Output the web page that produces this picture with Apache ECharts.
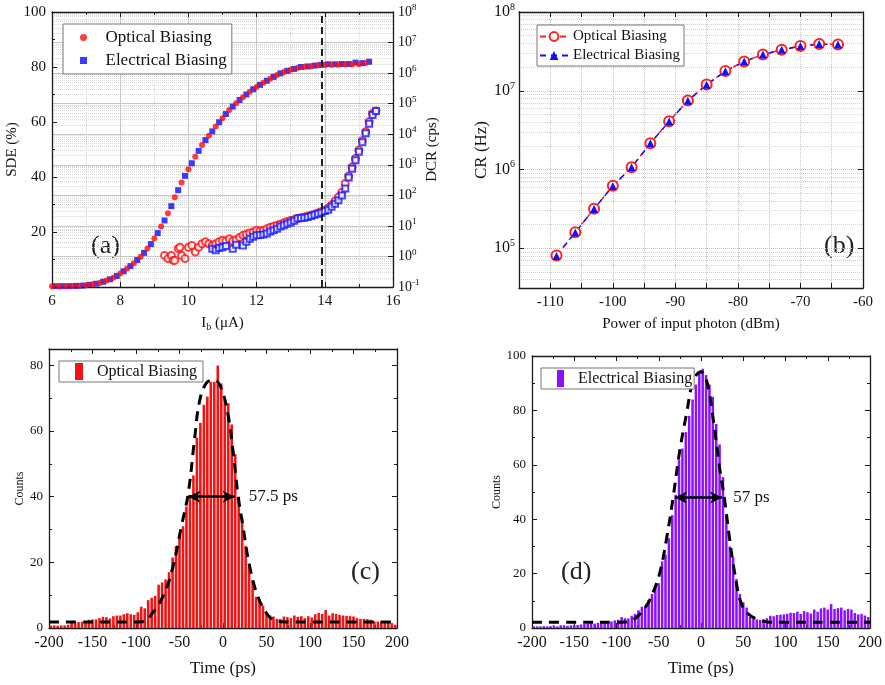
<!DOCTYPE html>
<html><head><meta charset="utf-8">
<script src="https://cdn.jsdelivr.net/npm/echarts/dist/echarts.min.js"></script>
<style>html,body{margin:0;padding:0;background:#fff}#c{width:885px;height:685px}</style>
</head><body><div id="c"></div>
<script>
// ---------- Panel (a) ----------
const aSdeOptX = [6.0,6.2,6.4,6.6,6.8,7.0,7.2,7.4,7.6,7.8,8.0,8.2,8.4,8.6,8.8,9.0,9.2,9.4,9.6,9.8,10.0,10.2,10.4,10.6,10.8,11.0,11.2,11.4,11.6,11.8,12.0,12.2,12.4,12.6,12.8,13.0,13.2,13.4,13.6,13.8,14.0,14.2,14.4,14.6,14.8,15.0,15.2];
const aSdeOptY = [0.3,0.3,0.3,0.4,0.5,0.6,1.0,1.5,2.4,3.4,4.9,6.7,8.6,11.0,14.0,17.6,22.0,26.8,32.6,38.0,42.8,47.4,51.6,55.0,58.4,61.4,64.4,66.8,69.0,71.0,72.7,74.3,75.7,77.1,78.2,79.0,79.6,80.1,80.3,80.6,80.7,80.8,80.8,80.9,80.9,81.0,81.5];
const aSdeEleX = [6.1,6.3,6.5,6.7,6.9,7.1,7.3,7.5,7.7,7.9,8.1,8.3,8.5,8.7,8.9,9.1,9.3,9.5,9.7,9.9,10.1,10.3,10.5,10.7,10.9,11.1,11.3,11.5,11.7,11.9,12.1,12.3,12.5,12.7,12.9,13.1,13.3,13.5,13.7,13.9,14.1,14.3,14.5,14.7,14.9,15.1,15.3];
const aSdeEleY = [0.3,0.3,0.3,0.4,0.5,0.8,1.2,1.9,2.8,4.0,5.7,7.6,9.8,12.4,15.6,19.6,24.2,29.4,35.2,40.4,45.0,49.5,53.4,56.6,59.9,62.9,65.6,68.0,70.0,71.9,73.5,75.0,76.4,77.7,78.6,79.3,80.0,80.2,80.5,80.8,81.0,81.0,81.1,81.1,81.6,81.4,81.9];
const aDcrOptX = [9.3,9.4,9.5,9.55,9.6,9.7,9.75,9.8,9.9,10.0,10.1,10.2,10.3,10.4,10.5,10.6,10.7,10.8,10.9,11.0,11.1,11.2,11.3,11.4,11.5,11.6,11.7,11.8,11.9,12.0,12.1,12.2,12.3,12.4,12.5,12.6,12.7,12.8,12.9,13.0,13.1,13.2,13.3,13.4,13.5,13.6,13.7,13.8,13.9,14.0,14.1,14.2,14.3,14.4,14.5,14.6,14.7,14.8,14.9,15.0,15.1,15.2,15.3,15.4,15.5];
const aDcrOptY = [1.08,0.85,1.07,0.74,0.74,1.8,2.0,1.07,0.85,2.0,2.3,1.4,2.0,2.6,3.0,2.6,2.3,2.6,3.0,3.4,3.2,3.8,3.2,3.5,4.2,4.9,5.3,5.9,6.3,7.2,6.8,7.2,8.0,9.1,9.8,10.5,11.5,12.6,14,15,16,17.4,18.5,19.5,21,22.4,24,26.3,29,32,38,48,65,89,126,245,427,851,1620,3020,6170,12000,25700,47900,57500];
const aDcrEleX = [10.7,10.8,10.9,11.0,11.1,11.3,11.4,11.6,11.7,11.8,11.9,12.0,12.1,12.2,12.3,12.4,12.5,12.6,12.7,12.8,12.9,13.0,13.1,13.2,13.3,13.4,13.5,13.6,13.7,13.8,13.9,14.0,14.1,14.2,14.3,14.4,14.5,14.6,14.7,14.8,14.9,15.0,15.1,15.2,15.3,15.4,15.5];
const aDcrEleY = [1.8,1.6,1.9,2.0,2.2,1.8,2.4,2.3,3.0,3.8,4.4,4.9,5.0,5.2,5.6,6.5,7.2,8.1,9.5,10.5,11.7,13,14.8,17.4,18,18.5,19.5,21,23,25,27,31,34,42,53,69,98,166,380,740,1400,2690,5500,10700,22000,42700,57500];
const aDashX = 13.9;

// ---------- Panel (b) ----------
const bPower = [-109,-106,-103,-100,-97,-94,-91,-88,-85,-82,-79,-76,-73,-70,-67,-64];
const bOpt = [80700,160000,317000,620000,1070000,2160000,4100000,7500000,12000000,17800000,23600000,28900000,33200000,37000000,39200000,38700000];
const bEle = [80000,159000,316000,618000,1065000,2150000,4080000,7450000,11900000,17700000,23500000,28800000,33100000,36900000,39300000,38800000];

// ---------- Panels (c) and (d) ----------
const histTime = [-198,-194,-190,-186,-182,-178,-174,-170,-166,-162,-158,-154,-150,-146,-142,-138,-134,-130,-126,-122,-118,-114,-110,-106,-102,
  -98,-94,-90,-86,-82,-78,-74,-70,-66,-62,-58,-54,-50,-46,-42,-38,-34,-30,-26,-22,-18,-14,-10,-6,-2,
  2,6,10,14,18,22,26,30,34,38,42,46,50,54,58,62,66,70,74,78,82,86,90,94,98,
  102,106,110,114,118,122,126,130,134,138,142,146,150,154,158,162,166,170,174,178,182,186,190,194,198];
const cCounts = [0.8,0.8,0.7,0.8,0.8,1.0,1.8,1.8,1.8,1.9,2.0,2.5,2.6,2.6,3.0,3.4,3.3,2.9,3.6,3.8,3.8,4.2,4.5,4.2,4.0,
  4.8,6.5,6.0,8.5,9.2,9.8,13.2,13.9,14.8,17.0,21.5,25.0,28.5,31.0,37.0,40.5,46.5,58.0,62.5,68.0,70.5,75.0,75.0,80.0,74.5,
  69.5,68.5,62.0,53.0,40.0,33.5,25.0,18.5,14.5,9.5,8.8,6.8,4.5,3.8,3.5,2.8,2.7,3.5,3.3,3.0,3.8,3.4,3.6,3.0,3.6,
  3.2,4.2,4.6,4.3,5.5,3.8,4.5,4.3,4.0,3.8,3.7,3.6,3.5,3.0,2.8,2.8,2.7,2.5,2.0,2.0,2.0,1.8,1.9,1.5,1.0];
const cFitT = [-200,-150,-100,-90,-84,-69,-57.5,-48,-40,-32.5,-27,-19,-9.5,-2,5.8,11.5,17,23,30.7,40,50,57.5,65,77,100,150,200];
const cFitY = [1.8,1.8,1.8,2.0,3.5,9.6,18.7,30.8,41,58,69,74.7,75.5,73,65,54,41,30.8,18.7,9.6,4.5,2.5,2.0,1.8,1.8,1.8,1.8];
const cFwhm = [-40, 13.5, 40];
const cFwhmText = '57.5 ps';

const dCounts = [0.6,0.6,0.6,0.7,0.6,0.7,0.8,0.6,1.0,1.0,0.8,1.0,1.2,1.1,1.3,1.5,1.6,1.8,1.6,1.9,1.8,2.0,2.2,2.4,2.8,
  3.0,4.0,3.6,3.5,4.5,5.2,6.5,7.8,8.0,10.3,12.5,15.0,16.5,24.5,27.0,33.0,41.5,49.0,62.0,66.0,72.0,78.0,84.0,89.5,94.0,
  95.3,93.0,89.5,85.0,75.0,67.5,55.5,41.0,30.0,26.0,18.0,12.5,9.5,7.5,4.0,3.5,3.2,3.0,3.2,3.6,4.5,4.3,4.8,4.9,5.0,
  5.2,5.6,5.5,6.0,5.2,6.2,5.8,5.3,6.8,6.0,7.2,7.5,6.8,8.8,7.0,7.3,7.5,6.5,7.0,6.8,5.5,5.0,5.2,4.6,4.0];
const dFitT = [-200,-150,-100,-90,-80,-65,-57,-49,-41,-33,-25,-17,-9,0,6.6,14,22,28,34,40,47.7,57,69,81,100,150,200];
const dFitY = [2.1,2.1,2.1,2.2,3,8,12.9,20,32.4,48,65.5,79,91,94.2,91,77.7,59,47,32.4,20,9,4.9,3,2.1,2.1,2.1,2.1];
const dFwhm = [-31, 25, 48];
const dFwhmText = '57 ps';

const legendNames = {aOpt:'Optical Biasing', aEle:'Electrical Biasing', bOpt:'Optical Biasing', bEle:'Electrical Biasing', cHist:'Optical Biasing', dHist:'Electrical Biasing'};

// ---------- styling helpers ----------
const F = 'Liberation Serif';
const AX = '#1a1a1a';
const zip = (xs, ys) => xs.map((x, i) => [x, ys[i]]);
const L = {show:true, onZero:false, lineStyle:{color:AX, width:1.3}};
const T = {show:true, inside:true, length:5, lineStyle:{color:AX, width:1}};
const MT = n => ({show:true, splitNumber:n, length:3, lineStyle:{color:AX, width:1}});
const lab = (size, margin, fmt) => ({show:true, color:'#111', fontFamily:F, fontSize:size, margin:margin, formatter:fmt});
const logFmt = v => { const e = Math.log10(v), r = Math.round(e); return Math.abs(e - r) > 1e-6 ? '' : '{b|10}{s|' + r + '}'; };
const logRich = s => ({b:{fontFamily:F, fontSize:s, color:'#111'}, s:{fontFamily:F, fontSize:Math.round(s*0.65), color:'#111', padding:[0,0,s*0.6,0]}});
const nameStyle = s => ({fontFamily:F, fontSize:s, color:'#111'});
const mirrorX = (g, min, max, iv, mt) => ({gridIndex:g, type:'value', position:'top', min, max, interval:iv, axisLine:L, axisTick:T, minorTick: mt ? MT(mt) : {show:false}, axisLabel:{show:false}, splitLine:{show:false}});
const mirrorY = (g, min, max, iv, mt) => ({gridIndex:g, type:'value', position:'right', min, max, interval:iv, axisLine:L, axisTick:T, minorTick: mt ? MT(mt) : {show:false}, axisLabel:{show:false}, splitLine:{show:false}});

const option = {
  animation:false,
  backgroundColor:'#fff',
  textStyle:{fontFamily:F},
  grid:[
    {left:52, top:12, width:341, height:275},
    {left:519, top:12, width:344, height:276},
    {left:49, top:349, width:348, height:279},
    {left:532, top:356, width:339, height:272}
  ],
  xAxis:[
    {gridIndex:0, type:'value', position:'bottom', min:6, max:16, interval:2, axisLine:L, axisTick:T, minorTick:MT(2),
      axisLabel:lab(15, 7), splitLine:{show:true, lineStyle:{color:'#c6c6c6', width:1}},
      minorSplitLine:{show:true, lineStyle:{color:'#d4d4d4', type:'dotted'}},
      name:'I{sub|b} (μA)', nameLocation:'middle', nameGap:27,
      nameTextStyle:Object.assign(nameStyle(15), {rich:{sub:{fontFamily:F, fontSize:10, color:'#111', padding:[8,0,0,0]}}})},
    mirrorX(0, 6, 16, 2, 2),
    {gridIndex:1, type:'value', position:'bottom', min:-115, max:-60, interval:5, axisLine:L, axisTick:T,
      axisLabel:lab(15, 7, v => (v % 10 === 0 ? String(v) : '')),
      splitLine:{show:true, lineStyle:{color:'#c2c2c2', type:'dotted'}},
      name:'Power of input photon (dBm)', nameLocation:'middle', nameGap:29, nameTextStyle:nameStyle(15)},
    mirrorX(1, -115, -60, 5, 0),
    {gridIndex:2, type:'value', position:'bottom', min:-200, max:200, interval:50, axisLine:L, axisTick:T, minorTick:MT(2),
      axisLabel:lab(16, 7), splitLine:{show:false},
      name:'Time (ps)', nameLocation:'middle', nameGap:32, nameTextStyle:nameStyle(17)},
    mirrorX(2, -200, 200, 50, 2),
    {gridIndex:3, type:'value', position:'bottom', min:-200, max:200, interval:50, axisLine:L, axisTick:T, minorTick:MT(2),
      axisLabel:lab(16, 7), splitLine:{show:false},
      name:'Time (ps)', nameLocation:'middle', nameGap:32, nameTextStyle:nameStyle(17)},
    mirrorX(3, -200, 200, 50, 2)
  ],
  yAxis:[
    {gridIndex:0, type:'value', position:'left', min:0, max:100, interval:20, axisLine:L, axisTick:T, minorTick:MT(2),
      axisLabel:lab(15, 6, v => (v === 0 ? '' : String(v))), splitLine:{show:false},
      name:'SDE (%)', nameLocation:'middle', nameGap:31, nameTextStyle:nameStyle(15)},
    {gridIndex:0, type:'log', logBase:10, position:'right', min:0.1, max:1e8, axisLine:L, axisTick:T,
      minorTick:{show:false, splitNumber:9},
      axisLabel:{show:true, margin:5, formatter:logFmt, rich:logRich(14)},
      splitLine:{show:true, lineStyle:{color:'#c6c6c6', width:1}},
      minorSplitLine:{show:true, lineStyle:{color:'#d6d6d6', type:'dotted'}},
      name:'DCR (cps)', nameLocation:'middle', nameGap:32, nameRotate:90, nameTextStyle:nameStyle(15)},
    {gridIndex:1, type:'log', logBase:10, position:'left', min:31300, max:1e8, axisLine:L, axisTick:T,
      minorTick:{show:false, splitNumber:9},
      axisLabel:{show:true, margin:4, formatter:logFmt, rich:logRich(16)},
      splitLine:{show:true, lineStyle:{color:'#c2c2c2', type:'dotted'}},
      minorSplitLine:{show:true, lineStyle:{color:'#d2d2d2', type:'dotted'}},
      name:'CR (Hz)', nameLocation:'middle', nameGap:28, nameTextStyle:nameStyle(17)},
    {gridIndex:1, type:'log', logBase:10, position:'right', min:31300, max:1e8, axisLine:L, axisTick:T, axisLabel:{show:false}, splitLine:{show:false}},
    {gridIndex:2, type:'value', position:'left', min:0, max:85, interval:20, axisLine:L, axisTick:T, minorTick:MT(2),
      axisLabel:lab(13, 6, v => (v % 20 === 0 ? String(v) : '')), splitLine:{show:false},
      name:'Counts', nameLocation:'middle', nameGap:22, nameTextStyle:nameStyle(12)},
    mirrorY(2, 0, 85, 20, 2),
    {gridIndex:3, type:'value', position:'left', min:0, max:100, interval:20, axisLine:L, axisTick:T, minorTick:MT(2),
      axisLabel:lab(13, 6), splitLine:{show:false},
      name:'Counts', nameLocation:'middle', nameGap:28, nameTextStyle:nameStyle(12)},
    mirrorY(3, 0, 100, 20, 2)
  ],
  legend:[
    {data:[{name:'aOpt', icon:'circle'}, {name:'aEle', icon:'path://M0,0L10,0L10,10L0,10Z'}], formatter:n => legendNames[n],
      orient:'vertical', left:63, top:24, itemWidth:30, itemHeight:7, itemGap:6, padding:[5,5,5,17],
      borderColor:'#777', borderWidth:1, backgroundColor:'#fff',
      textStyle:{fontFamily:F, fontSize:17, color:'#111', padding:[0,0,0,2]}},
    {data:['bOpt','bEle'], formatter:n => legendNames[n],
      orient:'vertical', left:537, top:25, itemWidth:28, itemHeight:11, itemGap:4, padding:[4,4,3,2],
      borderColor:'#777', borderWidth:1, backgroundColor:'#fff',
      textStyle:{fontFamily:F, fontSize:15, color:'#111'}},
    {data:[{name:'cHist', icon:'rect'}], formatter:n => legendNames[n],
      left:59, top:361, itemWidth:8, itemHeight:17, padding:[2,6,2,16],
      borderColor:'#777', borderWidth:1, backgroundColor:'#fff',
      textStyle:{fontFamily:F, fontSize:16, color:'#111', padding:[0,0,0,9]}},
    {data:[{name:'dHist', icon:'rect'}], formatter:n => legendNames[n],
      left:541, top:368, itemWidth:7, itemHeight:17, padding:[2,2,2,16],
      borderColor:'#777', borderWidth:1, backgroundColor:'#fff',
      textStyle:{fontFamily:F, fontSize:16, color:'#111', padding:[0,0,0,9]}}
  ],
  series:[
    // (a)
    {name:'aDcrOpt', type:'scatter', xAxisIndex:0, yAxisIndex:1, data:zip(aDcrOptX, aDcrOptY), symbol:'emptyCircle', symbolSize:7,
      itemStyle:{color:'#ff1010', borderColor:'#ff1010', borderWidth:1.6}},
    {name:'aDcrEle', type:'scatter', xAxisIndex:0, yAxisIndex:1, data:zip(aDcrEleX, aDcrEleY), symbol:'emptyRect', symbolSize:6,
      itemStyle:{color:'#1a1aff', borderColor:'#1a1aff', borderWidth:1.5}},
    {name:'aEle', type:'scatter', xAxisIndex:0, yAxisIndex:0, data:zip(aSdeEleX, aSdeEleY), symbol:'rect', symbolSize:6,
      itemStyle:{color:'#0a0aff'}},
    {name:'aOpt', type:'scatter', xAxisIndex:0, yAxisIndex:0, data:zip(aSdeOptX, aSdeOptY), symbol:'circle', symbolSize:6,
      itemStyle:{color:'#ff0a0a'},
      markLine:{silent:true, symbol:'none', label:{show:false}, data:[{xAxis:aDashX}],
        lineStyle:{color:'#222', width:2, type:[7,4]}}},
    // (b)
    {name:'bOpt', type:'line', xAxisIndex:2, yAxisIndex:2, data:zip(bPower, bOpt), symbol:'emptyCircle', symbolSize:10,
      itemStyle:{color:'#ff2020', borderWidth:1.3}, lineStyle:{color:'#ff2020', width:1.5, type:[6,4]}},
    {name:'bEle', type:'line', xAxisIndex:2, yAxisIndex:2, data:zip(bPower, bEle), symbol:'triangle', symbolSize:8,
      itemStyle:{color:'#1010ff'}, lineStyle:{color:'#1010ff', width:1.5, type:[6,5]}},
    // (c)
    {name:'cHist', type:'bar', xAxisIndex:4, yAxisIndex:4, data:zip(histTime, cCounts), barWidth:2.6,
      itemStyle:{color:'#f21414'}},
    {name:'cFit', type:'line', xAxisIndex:4, yAxisIndex:4, data:zip(cFitT, cFitY), smooth:0.4, symbol:'none',
      lineStyle:{color:'#000', width:3, type:[10,7]},
      markLine:{silent:true, symbol:['arrow','arrow'], symbolSize:[9,12], precision:1,
        lineStyle:{color:'#000', width:2.5, type:'solid'},
        label:{show:true, position:'end', distance:14, formatter:cFwhmText, fontFamily:F, fontSize:17, color:'#111'},
        data:[[{coord:[cFwhm[0], cFwhm[2]]}, {coord:[cFwhm[1], cFwhm[2]]}]]}},
    // (d)
    {name:'dHist', type:'bar', xAxisIndex:6, yAxisIndex:6, data:zip(histTime, dCounts), barWidth:2.5,
      itemStyle:{color:'#8a10ff'}},
    {name:'dFit', type:'line', xAxisIndex:6, yAxisIndex:6, data:zip(dFitT, dFitY), smooth:0.4, symbol:'none',
      lineStyle:{color:'#000', width:3, type:[10,7]},
      markLine:{silent:true, symbol:['arrow','arrow'], symbolSize:[9,12], precision:1,
        lineStyle:{color:'#000', width:2.5, type:'solid'},
        label:{show:true, position:'end', distance:11, formatter:dFwhmText, fontFamily:F, fontSize:17, color:'#111'},
        data:[[{coord:[dFwhm[0], dFwhm[2]]}, {coord:[dFwhm[1], dFwhm[2]]}]]}}
  ],
  graphic:[
    {type:'text', left:91, top:233, style:{text:'(a)', font:'26px "Liberation Serif"', fill:'#222'}},
    {type:'text', left:824, top:233, style:{text:'(b)', font:'26px "Liberation Serif"', fill:'#222'}},
    {type:'text', left:351, top:559, style:{text:'(c)', font:'26px "Liberation Serif"', fill:'#222'}},
    {type:'text', left:561, top:559, style:{text:'(d)', font:'26px "Liberation Serif"', fill:'#222'}}
  ]
};
const chart = echarts.init(document.getElementById('c'), null, {renderer:'canvas'});
chart.setOption(option);
</script></body></html>
